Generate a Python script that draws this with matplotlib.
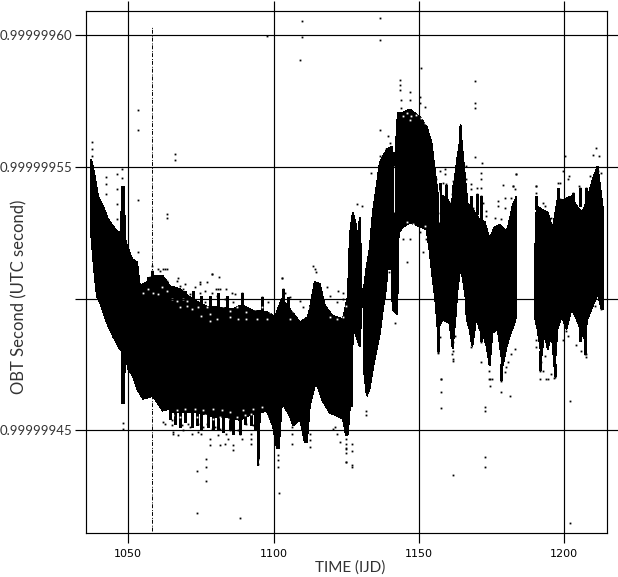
import numpy as np
import matplotlib
matplotlib.use("Agg")
import matplotlib.pyplot as plt

# y values are stored as offsets from BASE, in units of 1e-8
BASE = 0.9999995
UNIT = 1e-8

x_ticks = [1050, 1100, 1150, 1200]
y_ticks = [0.99999960, 0.99999955, 0.99999950, 0.99999945]
y_tick_labels = ["0.99999960", "0.99999955", "", "0.99999945"]

# envelope of the dense part of the data
band1_top_x = [1037.2, 1038.2, 1039.6, 1041.3, 1043.0, 1044.7, 1046.5, 1047.5, 1047.8, 1048.5, 1048.9, 1049.6,
               1051.3, 1053.0, 1054.0, 1056.4, 1058.5, 1061.9, 1064.3, 1067.8, 1072.2, 1077.1, 1081.5, 1086.0,
               1089.1, 1092.9, 1097.7, 1100.5, 1102.9, 1105.6, 1109.1, 1111.8, 1112.5, 1114.2, 1115.9, 1117.7,
               1120.4, 1123.9, 1125.6, 1126.3, 1127.3, 1128.3, 1129.0, 1129.7, 1130.1, 1130.4]
band1_top_y = [5.28, 4.78, 3.88, 3.50, 3.01, 2.74, 2.52, 2.55, 4.25, 4.25, 2.25, 1.99,
               1.49, 1.38, 0.47, 0.62, 0.85, 0.85, 0.47, 0.36, -0.05, -0.30, -0.35, -0.40,
               -0.25, -0.45, -0.50, -0.70, 0.00, -0.40, -0.90, -0.70, -0.40, 0.62, 0.55, -0.28,
               -0.66, -0.78, 0.09, 2.44, 3.27, 2.82, 2.25, 3.08, 1.68, -0.02]
band1_bot_x = [1037.2, 1038.2, 1039.2, 1040.3, 1042.7, 1044.7, 1047.1, 1047.8, 1047.8, 1048.5, 1048.9, 1049.9,
               1051.6, 1053.0, 1055.1, 1058.5, 1061.9, 1064.3, 1065.4, 1068.8, 1072.2, 1077.1, 1080.5, 1084.0,
               1088.4, 1091.9, 1094.3, 1094.8, 1095.3, 1097.7, 1099.8, 1101.2, 1101.8, 1102.9, 1105.6, 1106.7,
               1109.1, 1110.8, 1111.5, 1112.5, 1114.2, 1115.2, 1116.9, 1119.4, 1121.7, 1123.9, 1124.9, 1125.6,
               1126.3, 1127.0, 1127.3, 1129.7, 1130.4]
band1_bot_y = [2.44, 1.12, 0.09, -0.17, -0.93, -1.42, -1.91, -1.99, -3.95, -3.95, -1.91, -2.67,
               -2.93, -3.42, -3.80, -3.69, -4.25, -4.18, -4.30, -4.30, -4.30, -4.40, -4.50, -4.50,
               -4.60, -4.40, -4.33, -6.33, -4.33, -4.25, -4.82, -5.69, -5.69, -3.95, -4.44, -4.82,
               -4.56, -5.46, -5.46, -4.07, -3.31, -3.31, -3.88, -4.33, -4.44, -4.56, -5.16, -5.16,
               -4.07, -4.07, -1.04, -1.80, -0.17]

band2_top_x = [1131.1, 1132.1, 1133.1, 1134.2, 1135.5, 1136.6, 1139.0, 1140.7, 1141.7, 1142.8, 1144.5, 1146.9,
               1150.3, 1152.7, 1154.4, 1155.5, 1156.5, 1157.9, 1159.6, 1161.3, 1163.1, 1164.1, 1164.4, 1164.8,
               1165.8, 1166.8, 1168.5, 1170.9, 1172.7, 1174.4, 1176.1, 1177.8, 1179.6, 1180.6, 1182.3, 1183.7]
band2_top_y = [0.36, 1.23, 1.87, 3.27, 4.25, 5.16, 5.65, 5.77, 5.01, 7.05, 7.05, 7.17,
               6.90, 6.52, 5.92, 4.90, 4.03, 3.90, 3.80, 3.50, 5.16, 5.92, 6.60, 5.92,
               4.78, 3.60, 3.40, 3.00, 2.90, 2.25, 2.70, 2.80, 2.60, 2.63, 3.50, 3.88]
band2_bot_x = [1131.1, 1132.1, 1133.1, 1134.2, 1135.5, 1136.6, 1137.6, 1138.7, 1139.3, 1140.7, 1141.0, 1142.4,
               1142.8, 1143.1, 1144.5, 1146.9, 1150.3, 1152.7, 1153.8, 1154.8, 1155.5, 1155.8, 1156.5, 1158.2,
               1160.6, 1161.7, 1162.7, 1163.4, 1164.4, 1165.5, 1166.2, 1166.5, 1167.5, 1168.5, 1169.9, 1170.9,
               1172.0, 1173.4, 1174.4, 1175.4, 1177.2, 1178.9, 1180.3, 1181.3, 1183.0, 1183.7]
band2_bot_y = [-2.67, -3.69, -3.42, -2.67, -1.91, -1.34, -0.47, 0.36, 1.12, 1.12, -0.40, -0.59,
               0.36, 2.52, 2.70, 2.89, 2.74, 2.63, 1.76, 0.74, 0.17, -0.17, -1.15, -0.78,
               -0.93, -1.91, -0.66, 0.36, 1.23, 0.55, -0.02, -0.78, -1.15, -1.80, -0.66, -1.15,
               -1.30, -1.80, -2.55, -1.30, -1.15, -2.55, -1.80, -1.42, -0.93, -0.55]

band3_top_x = [1189.9, 1190.6, 1192.3, 1194.4, 1196.1, 1197.8, 1200.2, 1202.6, 1204.4, 1206.4, 1208.1, 1209.9,
               1211.6, 1213.3, 1213.6]
band3_top_y = [1.10, 3.50, 3.38, 3.27, 2.63, 3.76, 3.76, 3.88, 3.50, 3.27, 3.76, 4.52,
               5.01, 3.50, 3.38]
band3_bot_x = [1189.9, 1190.9, 1192.3, 1193.3, 1194.4, 1195.8, 1196.8, 1197.8, 1199.2, 1200.9, 1202.6, 1204.4,
               1206.1, 1207.1, 1208.1, 1209.9, 1211.6, 1213.0, 1213.6]
band3_bot_y = [-0.66, -1.15, -2.17, -1.30, -1.91, -1.34, -2.67, -1.15, -0.66, -1.15, -0.40, -0.78,
               -1.30, -1.53, -0.78, -0.28, 0.21, -0.40, -0.40]

# the points that stand apart from the band
lone_x = [1109.7, 1109.7, 1109.1, 1097.6, 1053.4, 1053.4, 1053.4, 1066.1, 1066.1, 1063.4, 1063.4,
          1136.6, 1136.6, 1136.6, 1150.7, 1169.5, 1169.5, 1169.5, 1169.5,
          1143.7, 1143.7, 1143.7, 1143.8, 1143.8, 1146.9, 1146.9, 1150.3, 1150.3, 1152.1,
          1076.7, 1076.7, 1073.7, 1076.7, 1073.7, 1088.5, 1101.8, 1048.2, 1048.2,
          1157.6, 1157.6, 1157.6, 1172.7, 1172.7, 1172.7, 1172.7, 1161.9, 1202.0, 1202.0,
          1127.1, 1127.1, 1127.1, 1124.9, 1124.9, 1132.0, 1132.0, 1142.0, 1181.4, 1178.4,
          1174.4, 1174.4, 1161.8, 1156.5, 1191.6, 1194.5, 1196.6, 1207.7,
          1211.1, 1209.9, 1212.2, 1200.5, 1198.5, 1201.9, 1205.3, 1190.5, 1182.4, 1183.6,
          1171.8, 1166.3, 1158.9, 1133.4, 1128.8, 1130.5,
          1042.3, 1042.3, 1042.3, 1046.2, 1046.2, 1046.2, 1046.2, 1047.8, 1047.8, 1053.4,
          1060.9, 1062.6, 1067.1, 1078.8, 1074.7, 1080.8, 1102.9,
          1037.4, 1037.4, 1037.4, 1139.5, 1140.0, 1138.9, 1136.8, 1136.6,
          1144.6, 1146.9, 1150.4, 1152.6, 1151.5, 1145.8, 1139.5, 1139.5, 1139.8, 1138.9, 1140.0]
lone_y = [10.53, 9.93, 9.06, 9.96, 7.14, 6.41, 3.73, 5.50, 5.24, 3.20, 3.07,
          10.63, 9.81, 6.41, 8.75, 8.26, 7.42, 7.23, 5.36,
          8.30, 8.11, 7.92, 7.54, 7.24, 7.85, 7.54, 7.66, 7.43, 7.28,
          -6.07, -6.40, -6.55, -6.93, -8.12, -8.33, -7.37, -4.73, -4.93,
          -3.06, -3.56, -4.15, -4.13, -4.25, -6.02, -6.40, -6.69, -3.88, -8.50,
          -6.40, -5.77, -5.50, -6.21, -5.67, -4.42, -4.25, -0.92, -3.69, -3.56,
          -3.31, -3.06, -2.36, -2.05, -3.06, -3.06, -3.00, -2.11,
          5.72, 5.46, 5.40, 5.40, 4.39, 4.64, 4.27, 4.27, 4.27, 4.71,
          5.15, 5.02, 4.90, 4.77, 3.57, 3.51,
          4.63, 4.33, 3.95, 4.71, 4.14, 3.57, 3.01, 4.90, 4.59, 1.76,
          1.04, 1.12, 0.78, 0.93, 0.55, 0.36, 0.78,
          5.92, 5.67, 5.41, 6.16, 5.91, 5.66, 5.41, 5.16,
          2.26, 2.26, 2.51, 2.26, 1.75, 1.38, 1.63, 1.38, 1.00, 0.87, 1.75]

# loose points along the edges of the band
upper_fringe_x = [1058.0, 1058.0, 1060.3, 1062.0, 1063.2, 1057.5, 1062.0, 1063.2, 1066.6, 1069.5, 1067.8, 1066.1,
                  1068.9, 1072.9, 1074.7, 1077.0, 1078.9, 1081.3, 1076.4, 1080.2, 1081.5, 1083.8, 1085.6, 1089.0,
                  1071.2, 1074.7, 1078.7, 1086.7, 1103.3, 1103.9, 1102.8, 1113.7, 1114.2, 1114.8, 1122.3, 1124.0,
                  1118.3, 1074.1, 1076.4, 1080.4, 1083.3, 1086.1, 1095.9, 1098.2, 1105.6, 1109.1, 1110.2, 1119.4,
                  1121.7, 1124.0]
upper_fringe_y = [1.24, 1.05, 1.12, 1.12, 1.12, 0.80, 0.74, 0.67, 0.67, 0.55, 0.49, 0.36,
                  0.36, 0.42, 0.61, 0.61, 0.93, 0.80, 0.30, 0.36, 0.36, 0.36, 0.23, 0.23,
                  0.17, 0.23, 0.23, 0.17, 0.36, 0.23, 0.78, 1.24, 1.12, 0.99, 0.30, 0.23,
                  0.42, -0.14, -0.14, 0.11, -0.02, -0.14, 0.05, -0.14, 0.05, -0.08, -0.33, 0.11,
                  -0.14, -0.02]
lower_fringe_x = [1062.0, 1062.6, 1065.5, 1065.5, 1067.2, 1068.9, 1071.8, 1074.1, 1075.2, 1078.1, 1078.1, 1081.0,
                  1081.5, 1083.8, 1084.4, 1083.3, 1086.1, 1086.1, 1088.4, 1089.0, 1092.4, 1092.4, 1092.4, 1094.7,
                  1094.7, 1064.9, 1067.8, 1070.7, 1074.1, 1077.0, 1079.8, 1082.7, 1085.6, 1088.4, 1090.7, 1093.0,
                  1064.9, 1068.4, 1071.2, 1075.8, 1078.7, 1081.5, 1085.0, 1087.9, 1101.6, 1101.6, 1101.6, 1106.5,
                  1106.5, 1106.5, 1112.5, 1112.5, 1112.5, 1124.9, 1124.9, 1124.9, 1124.9, 1124.9, 1126.9, 1122.8,
                  1120.5, 1121.7, 1121.1]
lower_fringe_y = [-4.68, -4.75, -5.06, -5.12, -5.19, -5.00, -5.12, -5.06, -5.12, -5.31, -5.56, -5.19,
                  -5.56, -5.12, -5.31, -5.50, -5.56, -5.75, -5.12, -5.31, -5.12, -5.31, -5.50, -6.07,
                  -6.26, -4.62, -4.62, -4.75, -4.75, -4.75, -4.87, -4.81, -4.87, -4.87, -4.75, -4.81,
                  -4.81, -4.81, -4.87, -4.87, -4.94, -4.94, -5.00, -5.00, -5.94, -6.13, -6.38, -4.87,
                  -5.12, -5.50, -5.12, -5.38, -5.63, -5.31, -5.50, -5.69, -5.84, -6.20, -6.32, -5.44,
                  -4.94, -5.12, -4.87]
right_top_x = [1156.1, 1156.1, 1157.2, 1159.0, 1158.4, 1157.2, 1159.5, 1161.8, 1161.3, 1160.7, 1162.4, 1161.8,
               1161.8, 1157.2, 1166.4, 1168.1, 1168.1, 1169.9, 1169.9, 1171.6, 1171.6, 1171.6, 1171.6, 1168.1,
               1168.7, 1167.6, 1172.2, 1167.0, 1173.3, 1173.3, 1179.0, 1177.3, 1177.3, 1179.6, 1179.6, 1176.2,
               1178.5, 1182.5, 1183.0, 1181.9, 1183.6, 1190.5, 1190.5, 1190.5, 1192.8, 1193.4, 1191.6, 1195.7,
               1195.7, 1198.0, 1198.0, 1198.5, 1198.0, 1199.7, 1201.4, 1203.1, 1205.4, 1205.4, 1207.7, 1207.7,
               1206.6, 1204.8, 1208.9, 1210.0, 1211.7, 1212.9]
right_top_y = [4.52, 4.33, 4.84, 4.71, 4.39, 4.08, 4.33, 4.46, 3.95, 3.64, 3.45, 3.01,
               2.82, 3.26, 4.52, 4.33, 4.14, 4.21, 3.95, 4.77, 4.52, 4.21, 3.89, 3.76,
               3.45, 3.26, 3.64, 2.82, 3.32, 3.13, 4.29, 3.70, 3.51, 3.83, 3.45, 3.07,
               3.01, 4.27, 4.14, 3.83, 4.71, 4.27, 4.02, 3.76, 3.64, 3.51, 3.39, 2.82,
               3.07, 4.39, 4.14, 3.76, 3.51, 4.84, 4.52, 4.02, 4.21, 3.83, 4.21, 3.26,
               2.76, 2.63, 4.65, 4.39, 4.84, 4.77]
right_bot_x = [1156.7, 1156.7, 1157.2, 1156.7, 1156.7, 1156.7, 1157.8, 1162.4, 1161.8, 1161.8, 1161.3, 1161.8,
               1168.1, 1168.1, 1168.1, 1171.0, 1171.6, 1171.6, 1171.6, 1174.2, 1174.2, 1175.4, 1178.5, 1178.5,
               1178.5, 1180.8, 1180.2, 1179.6, 1183.0, 1181.9, 1190.5, 1190.5, 1192.2, 1191.6, 1192.8, 1194.0,
               1195.7, 1196.8, 1196.8, 1193.4, 1200.8, 1201.4, 1199.7, 1205.4, 1207.1, 1204.3, 1206.0, 1207.1,
               1207.7, 1212.9, 1212.9, 1210.6]
right_bot_y = [-1.03, -1.28, -1.47, -1.66, -1.85, -2.04, -3.04, -1.41, -1.66, -1.97, -2.10, -2.29,
               -1.09, -1.59, -1.85, -1.15, -1.41, -1.66, -2.41, -2.73, -3.04, -3.04, -2.60, -2.85,
               -3.11, -2.41, -2.60, -2.79, -1.91, -2.10, -1.59, -1.85, -2.41, -2.73, -2.73, -3.04,
               -2.85, -2.73, -2.98, -2.16, -1.22, -1.41, -1.59, -1.59, -1.59, -1.78, -1.97, -2.10,
               -2.22, -0.14, -0.40, -0.27]

# short columns of points that stick out of the band
stroke_x = [1056.9, 1058.0, 1060.3, 1062.0, 1063.2, 1066.6, 1069.5, 1072.3, 1075.0, 1078.0, 1081.0, 1084.0,
            1089.0, 1095.9, 1103.3, 1105.0,
            1064.4, 1066.1, 1067.8, 1069.5, 1071.8, 1073.5, 1075.2, 1077.5, 1079.3, 1081.0, 1082.7, 1085.0,
            1086.1, 1088.4, 1090.2, 1092.4, 1093.6,
            1168.1, 1169.9, 1171.6, 1161.8, 1159.5, 1157.2, 1190.5, 1198.0, 1203.1, 1205.4, 1207.7,
            1156.7, 1168.1, 1171.6, 1178.5, 1191.6, 1196.8, 1205.4, 1207.1]
stroke_top = [0.80, 1.05, 0.74, 0.80, 0.61, 0.40, 0.30, 0.30, 0.10, 0.10, 0.20, 0.10,
              0.23, 0.05, 0.36, 0.05,
              -4.20, -4.20, -4.20, -4.20, -4.20, -4.20, -4.20, -4.30, -4.30, -4.30, -4.30, -4.30,
              -4.30, -4.30, -4.30, -4.30, -4.30,
              3.90, 3.95, 3.90, 4.30, 4.30, 4.40, 3.90, 4.20, 4.00, 4.20, 4.20,
              -1.00, -0.90, -1.10, -2.50, -2.00, -2.50, -1.10, -1.20]
stroke_bot = [-0.50, -0.50, -0.50, -0.50, -0.50, -0.50, -0.50, -0.50, -0.50, -0.50, -0.50, -0.50,
              -0.50, -0.50, -0.50, -0.50,
              -4.56, -4.75, -4.87, -4.68, -4.87, -4.81, -4.94, -4.87, -5.00, -5.00, -5.06, -4.94,
              -5.12, -5.12, -4.75, -4.81, -4.94,
              3.20, 3.20, 3.00, 3.50, 3.80, 3.90, 3.40, 3.60, 3.60, 3.50, 3.40,
              -2.00, -1.60, -1.60, -3.10, -2.70, -2.95, -1.60, -2.10]

# small empty spots inside the band
gap_x = [1067.8, 1070.1, 1071.8, 1074.1, 1077.0, 1075.2, 1078.1, 1082.7, 1085.0, 1087.3, 1091.9, 1090.7,
         1093.6, 1095.9, 1098.7, 1097.6, 1094.2, 1090.7, 1087.9, 1085.0, 1080.4, 1078.1, 1109.1, 1108.5,
         1110.2, 1106.8, 1105.6, 1111.9, 1118.3, 1120.5, 1122.8, 1125.1, 1121.7, 1119.4, 1124.0, 1058.6,
         1056.9, 1055.2, 1061.5, 1060.3, 1063.2, 1064.9, 1066.6, 1068.9, 1070.1,
         1065.5, 1067.8, 1070.7, 1073.5, 1076.4, 1079.3, 1081.5, 1084.4, 1087.3, 1090.2, 1092.4, 1066.6,
         1069.5, 1072.9, 1075.8, 1079.3, 1082.1, 1085.0, 1089.6, 1093.0, 1095.9, 1097.6,
         1145.8, 1147.5, 1149.2, 1150.9, 1152.1, 1146.9, 1144.6, 1145.8, 1148.1, 1152.1]
gap_y = [-0.33, -0.27, -0.40, -0.33, -0.33, -0.65, -0.58, -0.27, -0.46, -0.33, -0.27, -0.52,
         -0.40, -0.33, -0.52, -0.77, -0.77, -0.77, -0.77, -0.71, -0.77, -0.84, -0.33, -0.58,
         -0.71, -0.46, -0.77, -0.33, -0.21, -0.46, -0.40, -0.27, -0.77, -0.71, -0.71, 0.23,
         0.36, 0.23, 0.42, 0.17, 0.30, -0.02, -0.08, -0.02, -0.08,
         -4.43, -4.49, -4.37, -4.49, -4.43, -4.56, -4.49, -4.56, -4.49, -4.43, -4.37, -4.24,
         -4.18, -4.18, -4.24, -4.18, -4.24, -4.31, -4.24, -4.18, -4.12, -4.49,
         7.05, 6.92, 6.98, 6.86, 6.67, 6.79, 6.92, 2.89, 2.83, 2.76]

# the thin empty slits in the band
slit_x = [1141.6, 1157.0]
slit_top = [5.01, 4.10]
slit_bot = [3.27, 2.90]

# the column of points at one date
column_x = 1058.0
column_top = 10.3
column_bot = -8.8


def val(offsets):
    return BASE + np.array(offsets) * UNIT


fig = plt.figure(figsize=(6.18, 5.77), dpi=100)
ax = fig.add_axes([85.9 / 618, (577 - 533.2) / 577, 521 / 618, 522 / 577])

bands = [(band1_top_x, band1_top_y, band1_bot_x, band1_bot_y),
         (band2_top_x, band2_top_y, band2_bot_x, band2_bot_y),
         (band3_top_x, band3_top_y, band3_bot_x, band3_bot_y)]
for tx, ty, bx, by in bands:
    ax.fill(tx + bx[::-1], val(ty + by[::-1]), color="black", lw=0.6, antialiased=False, zorder=2)

ax.vlines(stroke_x, val(stroke_bot), val(stroke_top), color="black", lw=0.75, antialiased=False, zorder=2)
ax.vlines(slit_x, val(slit_bot), val(slit_top), color="white", lw=0.7, zorder=2.1)
ax.plot(gap_x, val(gap_y), ls="none", marker="s", ms=1.3, mew=0, color="white", antialiased=False, zorder=2.1)

for px, py in [(lone_x, lone_y), (upper_fringe_x, upper_fringe_y), (lower_fringe_x, lower_fringe_y),
               (right_top_x, right_top_y), (right_bot_x, right_bot_y)]:
    ax.plot(px, val(py), ls="none", marker="s", ms=1.3, mew=0, color="black", antialiased=False, zorder=2.2)

ax.vlines(column_x, val(column_bot), val(column_top), color="black", lw=0.7,
          linestyles=(0, (4, 1, 1, 2)), zorder=2)

ax.set_xlim(1035.4, 1214.8)
ax.set_ylim(BASE - 8.9 * UNIT, BASE + 10.9 * UNIT)

ax.set_xticks(x_ticks)
ax.set_yticks(y_ticks)
ax.set_yticklabels(y_tick_labels, family="Lato", fontsize=9.5, color="#333333")
ax.tick_params(axis="x", length=7.2, width=0.85, top=True, labelsize=8, pad=4)
ax.tick_params(axis="y", length=7.9, width=0.85, right=True, pad=2)
ax.grid(color="black", lw=0.85)
ax.set_axisbelow(False)
for s in ax.spines.values():
    s.set_linewidth(0.85)

fig.text(350 / 618, 1 - 568 / 577, "TIME (IJD)", family="Lato", fontsize=11,
         ha="center", va="center", color="#333333")
fig.text(19 / 618, 1 - 297 / 577, "OBT Second (UTC second)", family="Lato", fontsize=12,
         rotation=90, ha="center", va="center", color="#333333")

fig.savefig("out.png", dpi=100)
